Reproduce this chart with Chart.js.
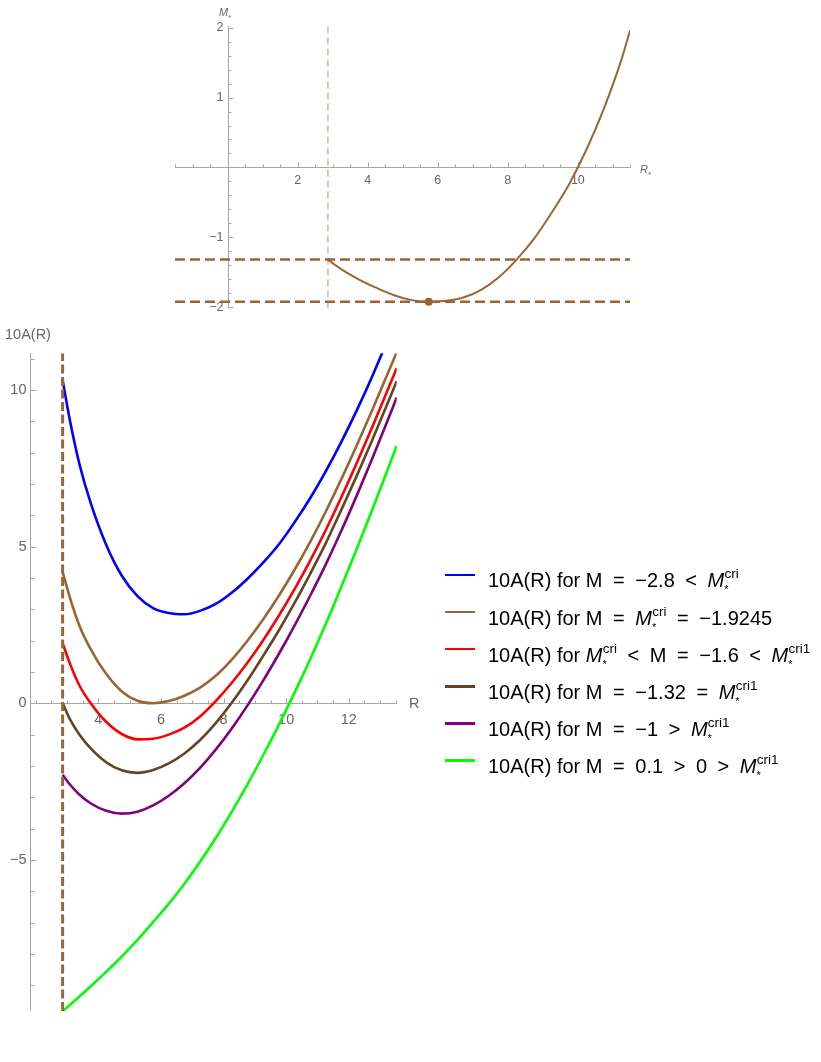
<!DOCTYPE html>
<html lang="en">
<head>
  <meta charset="UTF-8">
  <title>10A(R) curves</title>
  <script src="https://cdn.jsdelivr.net/npm/chart.js@4"></script>
  <style>
    body {
      margin: 0;
      background: #fff;
      font-family: 'Liberation Sans', Arial, sans-serif;
    }

    .page {
      position: relative;
      width: 821px;
      height: 1062px;
      overflow: hidden;
    }

    canvas {
      position: absolute;
      left: 0;
    }

    #top-chart { top: 0; }
    #main-chart { top: 322px; }

    .lbl {
      position: absolute;
      color: #666;
      white-space: nowrap;
      line-height: 1;
    }

    .legend-row {
      position: absolute;
      left: 488px;
      font-size: 20px;
      line-height: 1;
      white-space: nowrap;
      color: #000;
    }

    .swatch {
      position: absolute;
      left: -43px;
      top: 6.4px;
      width: 30px;
      height: 2.5px;
    }

    .op { margin: 0 5px; }
    .st { font-size: 11px; vertical-align: -6px; }
    .cr { font-size: 13.5px; vertical-align: 9px; margin-left: -4px; }
  </style>
</head>
<body>
  <div class="page" id="page">
    <canvas id="top-chart" width="821" height="322"></canvas>
    <canvas id="main-chart" width="821" height="740"></canvas>

    <div class="lbl" style="left:219px; top:7px; font-size:11px;"><i>M</i><span style="font-size:8px; vertical-align:-4px;">*</span></div>
    <div class="lbl" style="left:640px; top:164px; font-size:11px;"><i>R</i><span style="font-size:8px; vertical-align:-4px;">*</span></div>
    <div class="lbl" style="left:5px; top:327px; font-size:14.5px;">10A(R)</div>
    <div class="lbl" style="left:409px; top:696px; font-size:14.5px;">R</div>
  </div>

  <script>
    // ---- upper panel: M*(R*) ----
    const topR = [2.86, 3.1, 3.4, 3.75, 4.25, 4.75, 5.25, 5.75, 6.25, 6.75, 7.25, 7.75, 8.25, 8.75, 9.25, 9.75, 10.25, 10.75, 11.25, 11.49];
    const topM = [-1.32, -1.41, -1.505, -1.605, -1.725, -1.83, -1.90, -1.925, -1.91, -1.86, -1.75, -1.57, -1.32, -1.02, -0.65, -0.24, 0.26, 0.85, 1.55, 1.96];
    const rWall = 2.86;
    const mCri = -1.9245;
    const mCri1 = -1.32;
    const rCri = 5.74;
    const topXTicks = [2, 4, 6, 8, 10];
    const topYTicks = [-2, -1, 1, 2];

    // ---- lower panel: 10A(R) for several M ----
    const rGrid = [2.86, 3.1, 3.4, 3.75, 4.25, 4.75, 5.25, 5.75, 6.25, 6.75, 7.25, 7.75, 8.25, 8.75, 9.25, 9.75, 10.25, 10.75, 11.25, 11.75, 12.25, 12.75, 13.25, 13.53];
    const aBlue = [10.31, 8.99, 7.62, 6.41, 5.06, 4.07, 3.42, 3.04, 2.88, 2.84, 2.95, 3.17, 3.52, 3.96, 4.47, 5.05, 5.75, 6.52, 7.38, 8.32, 9.34, 10.44, 11.62];
    const aBrown = [4.19, 3.35, 2.47, 1.74, 0.94, 0.38, 0.08, 0.0, 0.07, 0.24, 0.50, 0.88, 1.38, 1.98, 2.66, 3.41, 4.23, 5.12, 6.09, 7.13, 8.22, 9.36, 10.54, 11.2];
    const aRed = [1.92, 1.25, 0.56, 0.01, -0.59, -0.98, -1.15, -1.13, -1.0, -0.78, -0.42, 0.07, 0.64, 1.28, 1.99, 2.77, 3.61, 4.52, 5.5, 6.55, 7.66, 8.82, 10.02, 10.7];
    const aDark = [0.0, -0.52, -1.0, -1.43, -1.88, -2.14, -2.22, -2.13, -1.92, -1.6, -1.17, -0.63, 0.0, 0.71, 1.49, 2.3, 3.17, 4.1, 5.08, 6.15, 7.25, 8.4, 9.6, 10.28];
    const aPurple = [-2.28, -2.6, -2.92, -3.19, -3.43, -3.52, -3.46, -3.26, -2.95, -2.55, -2.06, -1.48, -0.82, -0.09, 0.7, 1.55, 2.45, 3.4, 4.4, 5.48, 6.62, 7.81, 9.05, 9.76];
    const aGreen = [-9.82, -9.62, -9.36, -9.04, -8.57, -8.08, -7.55, -6.98, -6.40, -5.76, -5.06, -4.30, -3.48, -2.61, -1.69, -0.72, 0.30, 1.37, 2.50, 3.69, 4.92, 6.18, 7.48, 8.22];
    const mainXTicks = [4, 6, 8, 10, 12];
    const mainYTicks = [-5, 0, 5, 10];

    const op = s => ' <span class="op">' + s + '</span> ';
    const MS = '<i>M</i><span class="st">*</span><span class="cr">cri</span>';
    const MS1 = '<i>M</i><span class="st">*</span><span class="cr">cri1</span>';
    const legendLabels = [
      '10A(R) for M' + op('=') + '\u22122.8' + op('&lt;') + MS,
      '10A(R) for M' + op('=') + MS + op('=') + '\u22121.9245',
      '10A(R) for ' + MS + op('&lt;') + 'M' + op('=') + '\u22121.6' + op('&lt;') + MS1,
      '10A(R) for M' + op('=') + '\u22121.32' + op('=') + MS1,
      '10A(R) for M' + op('=') + '\u22121' + op('&gt;') + MS1,
      '10A(R) for M' + op('=') + '0.1' + op('&gt;') + '0' + op('&gt;') + MS1
    ];

    const BROWN = '#996633';
    const colors = ['#0000ff', BROWN, '#ff0000', '#664422', '#800080', '#00ff00'];
    const series = [aBlue, aBrown, aRed, aDark, aPurple, aGreen];

    const TOP_X = [-1.51, 11.49];
    const TOP_Y = [-2.02, 2.025];
    const MAIN_X = [1.818, 13.53];
    const MAIN_Y = [-9.82, 11.17];

    const pts = (xs, ys) => ys.map((y, i) => ({ x: xs[i], y: y }));
    const fmt = v => (v < 0 ? '\u2212' + Math.abs(v) : String(v));

    // Mathematica-style axes: lines through a crossing point, inward ticks, grey labels
    const mmaAxes = {
      id: 'mmaAxes',
      beforeDatasetsDraw(chart, args, o) {
        const { ctx, chartArea: a } = chart;
        const xs = chart.scales.x;
        const ys = chart.scales.y;
        const ax = Math.round(xs.getPixelForValue(o.crossX)) + 0.5;
        const ay = Math.round(ys.getPixelForValue(o.crossY)) + 0.5;

        ctx.save();
        ctx.strokeStyle = '#a6a6a6';
        ctx.lineWidth = 1;
        ctx.beginPath();
        ctx.moveTo(a.left, ay);
        ctx.lineTo(a.right, ay);
        ctx.moveTo(ax, a.top);
        ctx.lineTo(ax, a.bottom);

        const near = (v, list) => list.some(t => Math.abs(t - v) < 1e-6);
        for (let k = 0; ; k++) {
          const v = o.xMinor[0] + k * o.xMinor[2];
          if (v > o.xMinor[1] + 1e-9) break;
          if (Math.abs(v - o.crossX) < 1e-6) continue;
          const p = Math.round(xs.getPixelForValue(v)) + 0.5;
          const len = near(v, o.xLabels) ? o.xMajor : o.xMinorLen;
          ctx.moveTo(p, ay);
          ctx.lineTo(p, ay - len);
        }
        for (let k = 0; ; k++) {
          const v = o.yMinor[0] + k * o.yMinor[2];
          if (v > o.yMinor[1] + 1e-9) break;
          if (Math.abs(v - o.crossY) < 1e-6 && !o.tickAtCross) continue;
          const p = Math.round(ys.getPixelForValue(v)) + 0.5;
          const len = near(v, o.yLabels) ? o.yMajor : o.yMinorLen;
          ctx.moveTo(ax, p);
          ctx.lineTo(ax + len, p);
        }
        ctx.stroke();

        ctx.fillStyle = '#666';
        ctx.font = o.fontSize + "px 'Liberation Sans', Arial, sans-serif";
        ctx.textAlign = 'center';
        ctx.textBaseline = 'middle';
        o.xLabels.forEach(v => ctx.fillText(fmt(v), xs.getPixelForValue(v), ay + o.xLabelDy));
        ctx.textAlign = 'right';
        o.yLabels.forEach(v => ctx.fillText(fmt(v), ax - o.yLabelDx, ys.getPixelForValue(v)));
        ctx.restore();
      }
    };

    const baseOptions = (padding, xr, yr, axes) => ({
      responsive: false,
      animation: false,
      events: [],
      layout: { padding: padding },
      scales: {
        x: { type: 'linear', min: xr[0], max: xr[1], display: false },
        y: { type: 'linear', min: yr[0], max: yr[1], display: false }
      },
      plugins: {
        legend: { display: false },
        tooltip: { enabled: false },
        mmaAxes: axes
      }
    });

    new Chart(document.getElementById('top-chart'), {
      type: 'line',
      data: {
        datasets: [
          { data: [{ x: rCri, y: mCri }], showLine: false, pointRadius: 4, pointBackgroundColor: BROWN, pointBorderWidth: 0 },
          { data: pts(topR, topM), borderColor: BROWN, borderWidth: 2, pointRadius: 0, cubicInterpolationMode: 'monotone' },
          { data: [{ x: TOP_X[0], y: mCri1 }, { x: TOP_X[1], y: mCri1 }], borderColor: BROWN, borderWidth: 2.5, borderDash: [10, 5], pointRadius: 0 },
          { data: [{ x: TOP_X[0], y: mCri }, { x: TOP_X[1], y: mCri }], borderColor: BROWN, borderWidth: 2.5, borderDash: [10, 5], pointRadius: 0 },
          { data: [{ x: rWall, y: TOP_Y[0] }, { x: rWall, y: TOP_Y[1] }], borderColor: 'rgba(153,102,51,0.7)', borderWidth: 1, borderDash: [7, 4], pointRadius: 0 }
        ]
      },
      options: baseOptions({ left: 175, right: 191, top: 26, bottom: 13.5 }, TOP_X, TOP_Y, {
        crossX: 0, crossY: 0,
        xMinor: [-1.5, 11.5, 0.5], yMinor: [-2, 2, 0.2],
        xLabels: topXTicks, yLabels: topYTicks,
        xMajor: 5, xMinorLen: 3, yMajor: 5, yMinorLen: 3,
        fontSize: 12.5, xLabelDy: 13, yLabelDx: 5
      }),
      plugins: [mmaAxes]
    });

    const mainSets = [
      { data: [{ x: rWall, y: MAIN_Y[0] }, { x: rWall, y: MAIN_Y[1] }], borderColor: BROWN, borderWidth: 3, borderDash: [9, 3.5], pointRadius: 0 }
    ];
    series.forEach((vals, i) => {
      mainSets.push({ data: pts(rGrid, vals), borderColor: colors[i], borderWidth: 2.6, pointRadius: 0, cubicInterpolationMode: 'monotone' });
    });

    new Chart(document.getElementById('main-chart'), {
      type: 'line',
      data: { datasets: mainSets },
      options: baseOptions({ left: 30, right: 424.3, top: 31.3, bottom: 51 }, MAIN_X, MAIN_Y, {
        crossX: MAIN_X[0], crossY: 0, tickAtCross: true,
        xMinor: [2, 13.5, 0.5], yMinor: [-9, 11, 1],
        xLabels: mainXTicks, yLabels: mainYTicks,
        xMajor: 5, xMinorLen: 3, yMajor: 6, yMinorLen: 4,
        fontSize: 14.5, xLabelDy: 16.5, yLabelDx: 4
      }),
      plugins: [mmaAxes]
    });

    // legend, built from the same colour list
    const page = document.getElementById('page');
    legendLabels.forEach((html, i) => {
      const row = document.createElement('div');
      row.className = 'legend-row';
      row.style.top = (567.4 + 37.1 * i) + 'px';
      row.innerHTML = '<span class="swatch" style="background:' + colors[i] + '"></span>' + html;
      page.appendChild(row);
    });
  </script>
</body>
</html>
